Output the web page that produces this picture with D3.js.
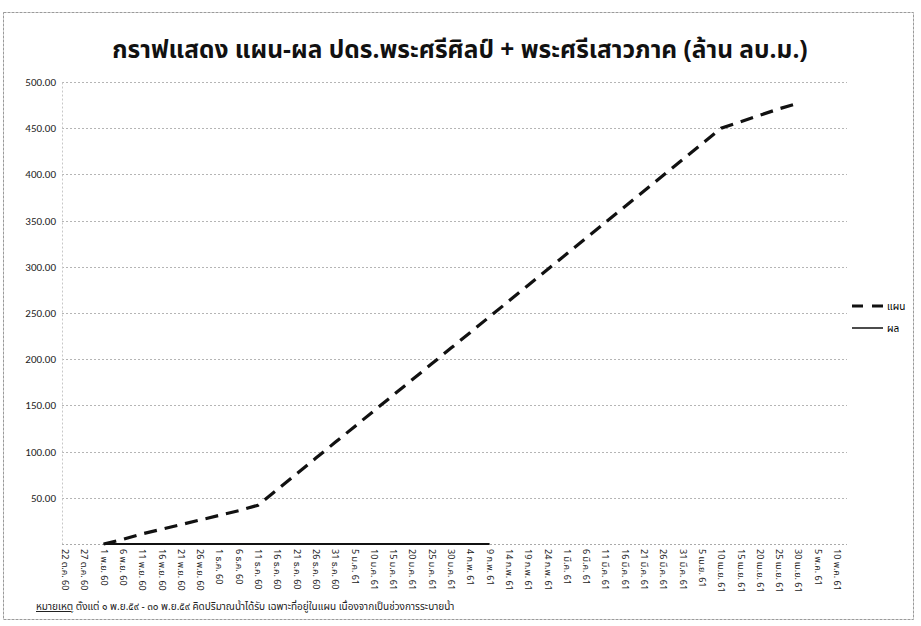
<!DOCTYPE html>
<html>
<head>
<meta charset="utf-8">
<script src="https://cdn.jsdelivr.net/npm/d3@7"></script>
<style>
  body { margin: 0; background: #fff; }
  svg { display: block; font-family: Tahoma, "Noto Sans Thai", "Noto Sans", "DejaVu Sans", sans-serif; }
</style>
</head>
<body>
<script>
(function(d3) {

  // category labels (every 5 days)
  var dates = [
    "22 ต.ค. 60", "27 ต.ค. 60", "1 พ.ย. 60", "6 พ.ย. 60", "11 พ.ย. 60", "16 พ.ย. 60",
    "21 พ.ย. 60", "26 พ.ย. 60", "1 ธ.ค. 60", "6 ธ.ค. 60", "11 ธ.ค. 60", "16 ธ.ค. 60",
    "21 ธ.ค. 60", "26 ธ.ค. 60", "31 ธ.ค. 60", "5 ม.ค. 61", "10 ม.ค. 61", "15 ม.ค. 61",
    "20 ม.ค. 61", "25 ม.ค. 61", "30 ม.ค. 61", "4 ก.พ. 61", "9 ก.พ. 61", "14 ก.พ. 61",
    "19 ก.พ. 61", "24 ก.พ. 61", "1 มี.ค. 61", "6 มี.ค. 61", "11 มี.ค. 61", "16 มี.ค. 61",
    "21 มี.ค. 61", "26 มี.ค. 61", "31 มี.ค. 61", "5 เม.ย. 61", "10 เม.ย. 61", "15 เม.ย. 61",
    "20 เม.ย. 61", "25 เม.ย. 61", "30 เม.ย. 61", "5 พ.ค. 61", "10 พ.ค. 61"
  ];

  // แผน (plan), million m3
  var plan = [
    null, null, 0, 5, 11, 16, 21, 26, 31, 36, 42, 59, 76, 93, 110, 127, 144, 161, 178, 195,
    212, 229, 246, 263, 280, 297, 314, 331, 348, 365, 382, 399, 416, 433, 450, 457, 464, 471, 477,
    null, null
  ];

  // ผล (actual), million m3
  var actual = [
    null, null, 0, 0, 0, 0, 0, 0, 0, 0, 0, 0, 0, 0, 0, 0, 0, 0, 0, 0, 0, 0, 0,
    null, null, null, null, null, null, null, null, null, null, null, null, null, null, null, null,
    null, null
  ];

  var yTicks = [50, 100, 150, 200, 250, 300, 350, 400, 450, 500];

  var title = "กราฟแสดง แผน-ผล ปดร.พระศรีศิลป์ + พระศรีเสาวภาค (ล้าน ลบ.ม.)";
  var seriesNames = ["แผน", "ผล"];
  var noteHead = "หมายเหตุ";
  var noteText = " ตั้งแต่ ๑ พ.ย.๕๙ - ๓๐ พ.ย.๕๙ คิดปริมาณน้ำได้รับ เฉพาะที่อยู่ในแผน เนื่องจากเป็นช่วงการระบายน้ำ";

  var W = 921, H = 626;
  var svg = d3.select("body").append("svg")
      .attr("width", W)
      .attr("height", H);

  svg.append("rect")
      .attr("width", W).attr("height", H)
      .attr("fill", "#fff");

  // chart frame
  svg.append("rect")
      .attr("x", 3.5).attr("y", 12.5)
      .attr("width", 910).attr("height", 607)
      .attr("fill", "none")
      .attr("stroke", "#9a9a9a")
      .attr("stroke-dasharray", "3,1");

  var plotLeft = 62, plotRight = 847, plotTop = 82, plotBottom = 544;

  var x = d3.scalePoint()
      .domain(dates)
      .range([65, 837]);

  var y = d3.scaleLinear()
      .domain([0, 500])
      .range([plotBottom, plotTop]);

  svg.append("text")
      .attr("x", 460)
      .attr("y", 58)
      .attr("text-anchor", "middle")
      .attr("font-size", 24.5)
      .attr("font-weight", "bold")
      .attr("fill", "#111")
      .text(title);

  // gridlines
  svg.append("g")
    .selectAll("line")
      .data(yTicks)
    .enter().append("line")
      .attr("x1", plotLeft)
      .attr("x2", plotRight)
      .attr("y1", function(d) { return Math.round(y(d)) + 0.5; })
      .attr("y2", function(d) { return Math.round(y(d)) + 0.5; })
      .attr("stroke", "#b5b5b5")
      .attr("stroke-dasharray", "2,2");

  // y axis
  var yAxis = svg.append("g")
      .attr("transform", "translate(" + plotLeft + ",0)")
      .call(d3.axisLeft(y).tickValues(yTicks).tickSize(0).tickPadding(6)
        .tickFormat(d3.format(".2f")));
  yAxis.select(".domain")
      .attr("stroke", "#c8c8c8")
      .attr("stroke-dasharray", "2,2");
  yAxis.selectAll("text")
      .attr("font-size", 11)
      .attr("fill", "#222")
      .attr("font-family", "Calibri, Carlito, 'Liberation Sans', sans-serif");

  // x axis
  svg.append("line")
      .attr("x1", plotLeft).attr("x2", plotRight)
      .attr("y1", plotBottom + 0.5).attr("y2", plotBottom + 0.5)
      .attr("stroke", "#aaa")
      .attr("stroke-dasharray", "2,2");

  svg.append("g")
    .selectAll("text")
      .data(dates)
    .enter().append("text")
      .attr("transform", function(d) {
        return "translate(" + (x(d) - 3) + "," + (plotBottom + 5) + ") rotate(90)";
      })
      .attr("font-size", 9)
      .attr("fill", "#222")
      .text(function(d) { return d; });

  var valueLine = d3.line()
      .defined(function(d) { return d != null; })
      .x(function(d, i) { return x(dates[i]); })
      .y(function(d) { return y(d); });

  svg.append("path")
      .datum(actual)
      .attr("fill", "none")
      .attr("stroke", "#111")
      .attr("stroke-width", 2)
      .attr("d", valueLine);

  svg.append("path")
      .datum(plan)
      .attr("fill", "none")
      .attr("stroke", "#111")
      .attr("stroke-width", 3.2)
      .attr("stroke-dasharray", "13,8")
      .attr("d", valueLine);

  // legend
  var legend = svg.append("g")
      .attr("transform", "translate(852,306)");
  legend.append("line")
      .attr("x1", 0).attr("x2", 31).attr("y1", 0).attr("y2", 0)
      .attr("stroke", "#111").attr("stroke-width", 3.2)
      .attr("stroke-dasharray", "11,9");
  legend.append("text")
      .attr("x", 35).attr("y", 4)
      .attr("font-size", 10)
      .text(seriesNames[0]);
  legend.append("line")
      .attr("x1", 0).attr("x2", 31).attr("y1", 22).attr("y2", 22)
      .attr("stroke", "#111").attr("stroke-width", 1.5);
  legend.append("text")
      .attr("x", 35).attr("y", 26)
      .attr("font-size", 10)
      .text(seriesNames[1]);

  // note
  var note = svg.append("text")
      .attr("x", 36)
      .attr("y", 610)
      .attr("font-size", 10)
      .attr("fill", "#222");
  note.append("tspan")
      .attr("text-decoration", "underline")
      .text(noteHead);
  note.append("tspan")
      .text(noteText);

}(d3));
</script>
</body>
</html>
